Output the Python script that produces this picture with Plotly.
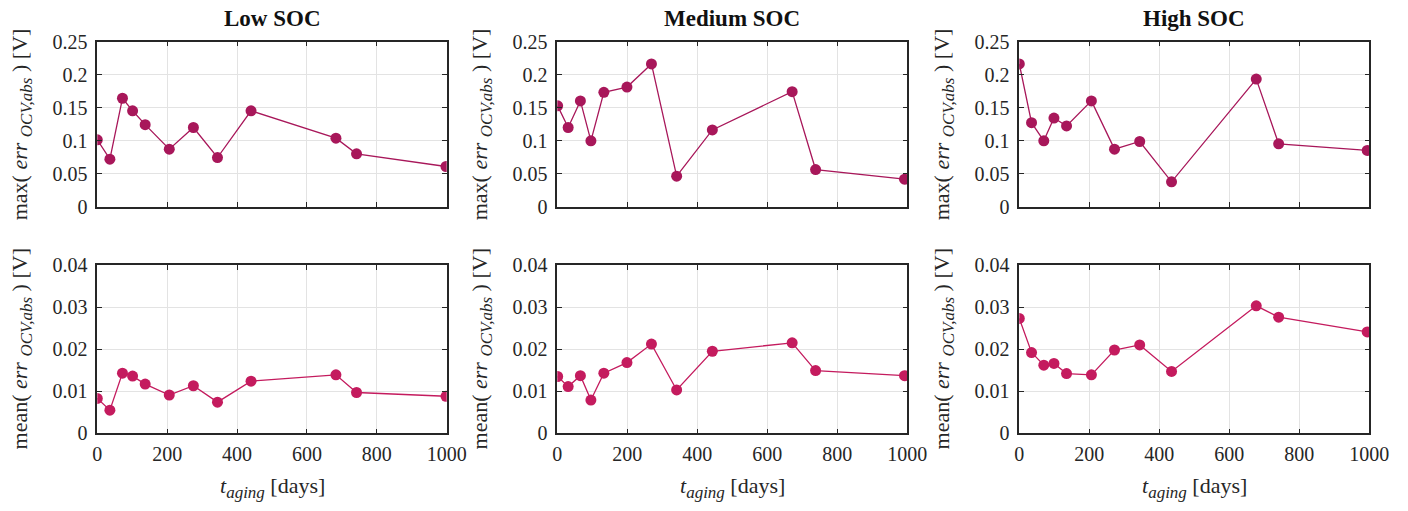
import plotly.graph_objects as go

# Aging time [days] of each check-up, per SOC group
t_low = [0, 36, 72, 101, 137, 206, 275, 344, 440, 683, 742, 998]
t_med = [1, 31, 66, 96, 133, 199, 269, 341, 443, 671, 738, 992]
t_high = [0, 35, 70, 99, 135, 206, 272, 344, 435, 677, 741, 994]

# max(|OCV error|) [V]
max_low = [0.101, 0.0717, 0.164, 0.145, 0.124, 0.0869, 0.1197, 0.0742, 0.145, 0.1035, 0.0798, 0.0606]
max_med = [0.1525, 0.1197, 0.160, 0.0995, 0.173, 0.181, 0.216, 0.046, 0.116, 0.174, 0.056, 0.0414]
max_high = [0.216, 0.127, 0.0995, 0.134, 0.122, 0.160, 0.0869, 0.0985, 0.0374, 0.193, 0.095, 0.085]

# mean(|OCV error|) [V]
mean_low = [0.0083, 0.0055, 0.0143, 0.0136, 0.0117, 0.0091, 0.0113, 0.0074, 0.0124, 0.0139, 0.0097, 0.0088]
mean_med = [0.0135, 0.0111, 0.0137, 0.0079, 0.0143, 0.0168, 0.0212, 0.0103, 0.0195, 0.0215, 0.0149, 0.0137]
mean_high = [0.0273, 0.0192, 0.0162, 0.0166, 0.0142, 0.0139, 0.0198, 0.0210, 0.0147, 0.0303, 0.0276, 0.0241]

titles = ["Low SOC", "Medium SOC", "High SOC"]
x_ticks = [0, 200, 400, 600, 800, 1000]
max_ticks = [0, 0.05, 0.1, 0.15, 0.2, 0.25]
max_ticktext = ["0", "0.05", "0.1", "0.15", "0.2", "0.25"]
mean_ticks = [0, 0.01, 0.02, 0.03, 0.04]
mean_ticktext = ["0", "0.01", "0.02", "0.03", "0.04"]

W, H = 1408, 511
FONT = "Liberation Serif"
TXT = "#262626"
COL_MAX = "#A8175A"
COL_MEAN = "#C41B5E"

# panel boxes in pixels: (left, right) per column, (top, bottom) per row
cols_px = [(97.3, 446.7), (557.3, 907.3), (1019.3, 1369.3)]
rows_px = [(41.5, 206.5), (265.0, 433.3)]

times = [t_low, t_med, t_high]
maxes = [max_low, max_med, max_high]
means = [mean_low, mean_med, mean_high]

fig = go.Figure()
layout = {}
annotations = []


def xdom(c):
    return [cols_px[c][0] / W, cols_px[c][1] / W]


def ydom(r):
    return [1 - rows_px[r][1] / H, 1 - rows_px[r][0] / H]


SUB = "<sub><i><span style='font-size:17px'>OCV,abs</span></i></sub>"
ylabels = [
    f"max(&nbsp;<i>err</i>&nbsp;{SUB}&nbsp;) [V]",
    f"mean(&nbsp;<i>err</i>&nbsp;{SUB}&nbsp;) [V]",
]

idx = 0
for r in range(2):
    for c in range(3):
        idx += 1
        xa = "xaxis" if idx == 1 else f"xaxis{idx}"
        ya = "yaxis" if idx == 1 else f"yaxis{idx}"
        xr = "x" if idx == 1 else f"x{idx}"
        yr = "y" if idx == 1 else f"y{idx}"
        yvals = maxes[c] if r == 0 else means[c]
        col = COL_MAX if r == 0 else COL_MEAN
        fig.add_trace(go.Scatter(
            x=times[c], y=yvals, mode="lines+markers",
            line=dict(color=col, width=1.3),
            marker=dict(color=col, size=11),
            xaxis=xr, yaxis=yr, showlegend=False,
        ))
        common = dict(
            showline=True, linecolor=TXT, linewidth=1.6, mirror="ticks",
            ticks="inside", ticklen=5, tickwidth=1.3, tickcolor=TXT,
            showgrid=True, gridcolor="#E3E3E3", gridwidth=1,
            zeroline=False, automargin=False,
            tickfont=dict(family=FONT, size=20, color=TXT),
        )
        layout[xa] = dict(
            common, domain=xdom(c), anchor=yr, range=[0, 1000],
            tickvals=x_ticks, showticklabels=(r == 1),
            ticklabelstandoff=2,
        )
        if r == 0:
            layout[ya] = dict(common, domain=ydom(r), anchor=xr, range=[0, 0.25],
                              tickvals=max_ticks, ticktext=max_ticktext,
                              ticklabelstandoff=4)
        else:
            layout[ya] = dict(common, domain=ydom(r), anchor=xr, range=[0, 0.04],
                              tickvals=mean_ticks, ticktext=mean_ticktext,
                              ticklabelstandoff=4)

        # y-axis label
        yc = (rows_px[r][0] + rows_px[r][1]) / 2
        annotations.append(dict(
            text=ylabels[r], xref="paper", yref="paper",
            x=(cols_px[c][0] - 76) / W, y=1 - yc / H,
            xanchor="center", yanchor="middle", textangle=-90,
            showarrow=False, font=dict(family=FONT, size=22, color=TXT),
        ))

for c in range(3):
    xc = (cols_px[c][0] + cols_px[c][1]) / 2
    annotations.append(dict(
        text=f"<b>{titles[c]}</b>", xref="paper", yref="paper",
        x=xc / W, y=1 - 18 / H, xanchor="center", yanchor="middle",
        showarrow=False, font=dict(family=FONT, size=23, color="#111111"),
    ))
    annotations.append(dict(
        text="<i>t</i><sub><i><span style='font-size:17px'>aging</span></i></sub> [days]",
        xref="paper", yref="paper",
        x=xc / W, y=1 - 487 / H, xanchor="center", yanchor="middle",
        showarrow=False, font=dict(family=FONT, size=22, color=TXT),
    ))

fig.update_layout(
    width=W, height=H,
    margin=dict(l=0, r=0, t=0, b=0, autoexpand=False),
    paper_bgcolor="white", plot_bgcolor="white",
    annotations=annotations,
    **layout,
)

fig.write_html("out.html")
